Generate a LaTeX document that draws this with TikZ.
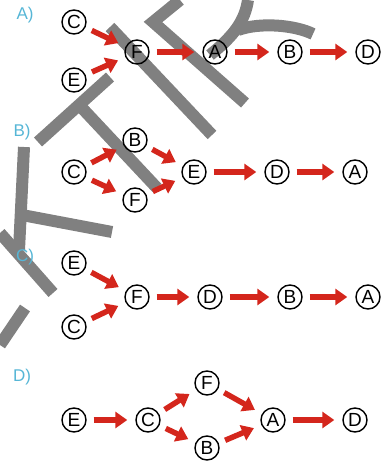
\documentclass[tikz,border=0pt]{standalone}
\usepackage{fontspec}
\setsansfont{Liberation Sans}
\usetikzlibrary{arrows.meta, positioning}
\definecolor{cred}{RGB}{212,38,28}
\definecolor{ccyan}{RGB}{86,182,214}
\definecolor{cwater}{RGB}{128,128,128}
\tikzset{
  every picture/.style={font=\sffamily, x=1pt, y=-1pt},
  state/.style={circle, draw=black, line width=1.4pt, minimum size=24pt, inner sep=0pt, font=\sffamily\fontsize{19}{19}\selectfont},
  arrow/.style={-{Triangle[length=12pt, width=16pt]}, draw=cred, line width=5.5pt, shorten <=7pt, shorten >=8pt},
  title/.style={font=\sffamily\fontsize{17}{17}\selectfont, text=ccyan},
  wmark/.style={draw=cwater, line width=12pt},
}

\begin{document}
\begin{tikzpicture}
  \useasboundingbox (0,0) rectangle (387,465);
  % watermark strokes
  \draw[wmark] (38,142) -- (110,77);
  \draw[wmark] (82,108) -- (157,188);
  \draw[wmark] (110,27) -- (212,135);
  \draw[wmark] (180,0) -- (153,22) -- (245,103);
  \draw[wmark] (248,0) .. controls (245,20) and (235,35) .. (210,55);
  \draw[wmark] (238,30) .. controls (260,22) and (295,25) .. (313,34);
  \draw[wmark] (24,147) -- (19,250);
  \draw[wmark] (22,215) -- (112,232);
  \draw[wmark] (0,233) -- (53,293);
  \draw[wmark] (25,308) -- (0,345);

  % A)
  \node[title] (ta) at (25,15) {A)};
  \node[state] (aC) at (74,22) {C};
  \node[state] (aE) at (74,80) {E};
  \node[state] (aF) at (137,52) {F};
  \node[state] (aA) at (215,52) {A};
  \node[state] (aB) at (290,52) {B};
  \node[state] (aD) at (368,52) {D};
  \draw[arrow] (aC) -- (aF);
  \draw[arrow] (aE) -- (aF);
  \draw[arrow] (aF) -- (aA);
  \draw[arrow] (aA) -- (aB);
  \draw[arrow] (aB) -- (aD);

  % B)
  \node[title] (tb) at (22,132) {B)};
  \node[state] (bC) at (74,172) {C};
  \node[state] (bB) at (135,140) {B};
  \node[state] (bF) at (135,200) {F};
  \node[state] (bE) at (194,172) {E};
  \node[state] (bD) at (277,172) {D};
  \node[state] (bA) at (355,172) {A};
  \draw[arrow] (bC) -- (bB);
  \draw[arrow] (bC) -- (bF);
  \draw[arrow] (bB) -- (bE);
  \draw[arrow] (bF) -- (bE);
  \draw[arrow] (bE) -- (bD);
  \draw[arrow] (bD) -- (bA);

  % C)
  \node[title] (tc) at (25,257) {C)};
  \node[state] (cE) at (74,263) {E};
  \node[state] (cC) at (74,327) {C};
  \node[state] (cF) at (137,297) {F};
  \node[state] (cD) at (210,297) {D};
  \node[state] (cB) at (290,297) {B};
  \node[state] (cA) at (368,297) {A};
  \draw[arrow] (cE) -- (cF);
  \draw[arrow] (cC) -- (cF);
  \draw[arrow] (cF) -- (cD);
  \draw[arrow] (cD) -- (cB);
  \draw[arrow] (cB) -- (cA);

  % D)
  \node[title] (td) at (22,377) {D)};
  \node[state] (dE) at (74,420) {E};
  \node[state] (dC) at (148,420) {C};
  \node[state] (dF) at (207,383) {F};
  \node[state] (dB) at (207,448) {B};
  \node[state] (dA) at (273,420) {A};
  \node[state] (dD) at (355,420) {D};
  \draw[arrow] (dE) -- (dC);
  \draw[arrow] (dC) -- (dF);
  \draw[arrow] (dC) -- (dB);
  \draw[arrow] (dF) -- (dA);
  \draw[arrow] (dB) -- (dA);
  \draw[arrow] (dA) -- (dD);
\end{tikzpicture}
\end{document}
